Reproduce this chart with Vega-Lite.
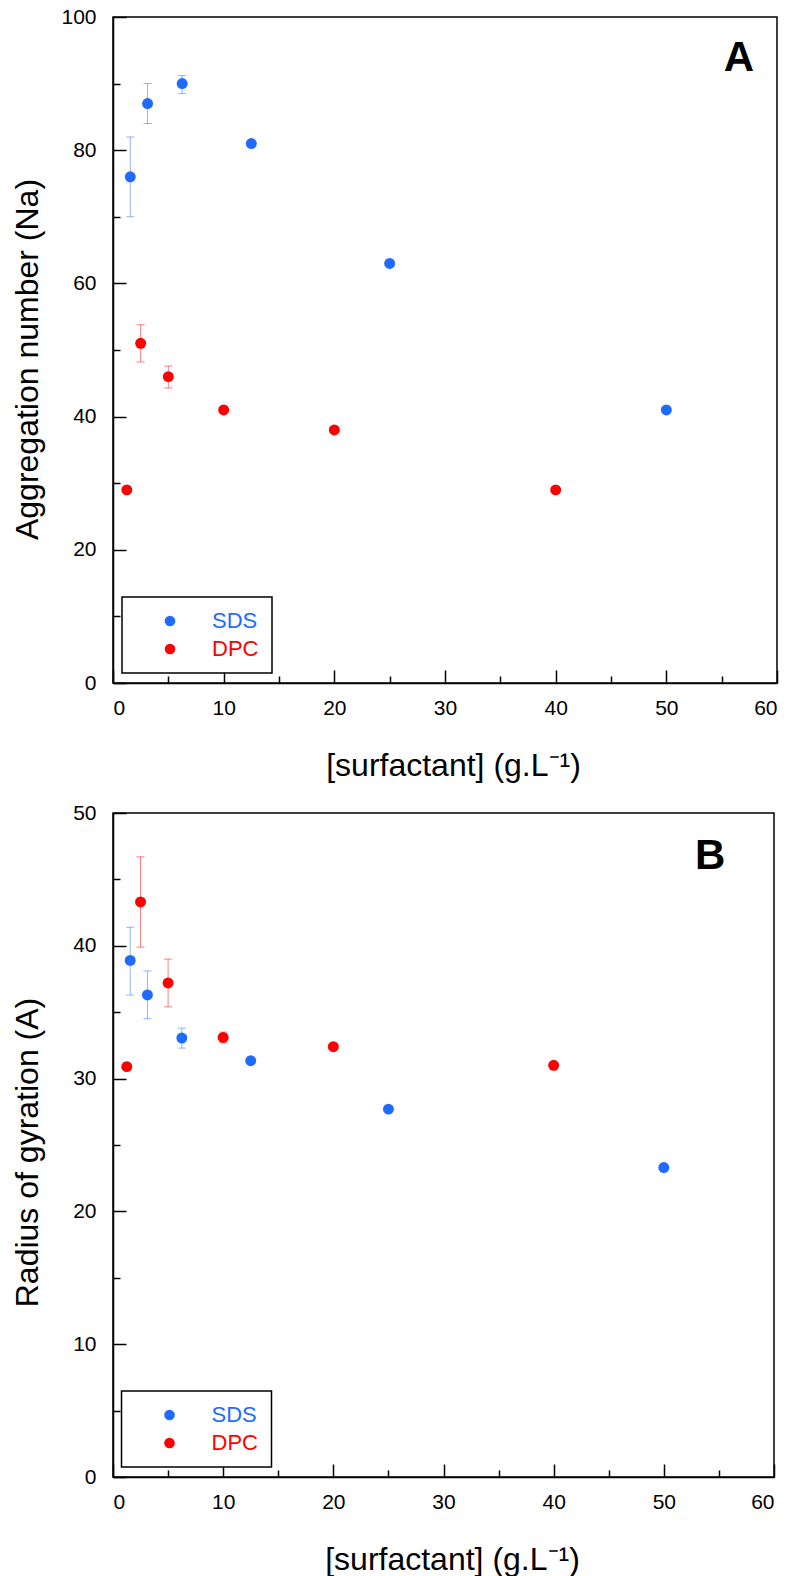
{
  "$schema": "https://vega.github.io/schema/vega-lite/v6.json",
  "padding": {"left": 10, "top": 5, "right": 5, "bottom": 1},
  "background": "white",
  "config": {
    "font": "Liberation Sans",
    "view": {"stroke": "black", "strokeWidth": 1.5},
    "axis": {
      "grid": false,
      "domainColor": "black",
      "domainWidth": 1.5,
      "tickColor": "black",
      "tickWidth": 1.5,
      "labelFont": "Liberation Sans",
      "labelFontSize": 21,
      "labelColor": "black",
      "titleFont": "Liberation Sans",
      "titleFontSize": 32,
      "titleFontWeight": "normal",
      "titleColor": "black"
    },
    "legend": {
      "orient": "none",
      "title": null,
      "strokeColor": "black",
      "strokeWidth": 1.5,
      "fillColor": "white",
      "padding": 13,
      "rowPadding": 6,
      "symbolType": "circle",
      "symbolSize": 113,
      "symbolOffset": 24,
      "symbolStrokeWidth": 0,
      "symbolOpacity": 1,
      "labelOffset": 31,
      "labelFont": "Liberation Sans",
      "labelFontSize": 22
    }
  },
  "datasets": {
    "panelA": [
      {"conc": 1.5625, "value": 76, "lo": 70, "hi": 82, "series": "SDS"},
      {"conc": 3.125, "value": 87, "lo": 84, "hi": 90, "series": "SDS"},
      {"conc": 6.25, "value": 90, "lo": 88.5, "hi": 91.2, "series": "SDS"},
      {"conc": 12.5, "value": 81, "lo": null, "hi": null, "series": "SDS"},
      {"conc": 25, "value": 63, "lo": null, "hi": null, "series": "SDS"},
      {"conc": 50, "value": 41, "lo": null, "hi": null, "series": "SDS"},
      {"conc": 1.25, "value": 29, "lo": null, "hi": null, "series": "DPC"},
      {"conc": 2.5, "value": 51, "lo": 48.2, "hi": 53.8, "series": "DPC"},
      {"conc": 5, "value": 46, "lo": 44.3, "hi": 47.6, "series": "DPC"},
      {"conc": 10, "value": 41, "lo": null, "hi": null, "series": "DPC"},
      {"conc": 20, "value": 38, "lo": null, "hi": null, "series": "DPC"},
      {"conc": 40, "value": 29, "lo": null, "hi": null, "series": "DPC"}
    ],
    "panelB": [
      {"conc": 1.5625, "value": 38.9, "lo": 36.3, "hi": 41.4, "series": "SDS"},
      {"conc": 3.125, "value": 36.3, "lo": 34.5, "hi": 38.1, "series": "SDS"},
      {"conc": 6.25, "value": 33.05, "lo": 32.3, "hi": 33.8, "series": "SDS"},
      {"conc": 12.5, "value": 31.35, "lo": null, "hi": null, "series": "SDS"},
      {"conc": 25, "value": 27.7, "lo": null, "hi": null, "series": "SDS"},
      {"conc": 50, "value": 23.3, "lo": null, "hi": null, "series": "SDS"},
      {"conc": 1.25, "value": 30.9, "lo": null, "hi": null, "series": "DPC"},
      {"conc": 2.5, "value": 43.3, "lo": 39.9, "hi": 46.7, "series": "DPC"},
      {"conc": 5, "value": 37.2, "lo": 35.4, "hi": 39.0, "series": "DPC"},
      {"conc": 10, "value": 33.1, "lo": 32.7, "hi": 33.5, "series": "DPC"},
      {"conc": 20, "value": 32.4, "lo": null, "hi": null, "series": "DPC"},
      {"conc": 40, "value": 31.0, "lo": null, "hi": null, "series": "DPC"}
    ],
    "labelA": [{"conc": 56.55, "value": 91.9, "label": "A"}],
    "labelB": [{"conc": 54.2, "value": 45.8, "label": "B"}]
  },
  "bounds": "flush",
  "spacing": 130,
  "resolve": {
    "scale": {"x": "independent", "y": "independent", "color": "independent"},
    "legend": {"color": "independent"}
  },
  "vconcat": [
    {
      "width": 664,
      "height": 666,
      "layer": [
        {
          "data": {"name": "panelA"},
          "transform": [{"filter": "datum.lo != null"}],
          "mark": {"type": "rule", "strokeWidth": 1, "opacity": 0.5},
          "encoding": {
            "x": {"field": "conc", "type": "quantitative", "scale": {"domain": [0, 60], "nice": false},
              "axis": {"orient": "bottom", "values": [0,5,10,15,20,25,30,35,40,45,50,55,60],
                "labelExpr": "datum.value % 10 === 0 ? datum.label : ''",
                "tickSize": {"condition": {"test": "datum.value % 10 === 0", "value": -13}, "value": -7},
                "labelPadding": 27,
                "title": "[surfactant] (g.L⁻¹)", "titleX": 340, "titleY": 92, "titleBaseline": "alphabetic"}},
            "y": {"field": "lo", "type": "quantitative", "scale": {"domain": [0, 100], "nice": false},
              "axis": {"orient": "left", "values": [0,10,20,30,40,50,60,70,80,90,100],
                "labelExpr": "datum.value % 20 === 0 ? datum.label : ''",
                "tickSize": {"condition": {"test": "datum.value % 20 === 0", "value": -13}, "value": -7},
                "labelPadding": 30,
                "title": "Aggregation number (Na)", "titleX": -69, "titleY": 342}},
            "y2": {"field": "hi"},
            "color": {"condition": {"test": "datum.series === 'SDS'", "value": "#1f6bff"}, "value": "#ff0000"}
          }
        },
        {
          "data": {"name": "panelA"},
          "transform": [{"filter": "datum.lo != null"}],
          "mark": {"type": "tick", "orient": "horizontal", "size": 8, "thickness": 1, "opacity": 0.5},
          "encoding": {
            "x": {"field": "conc", "type": "quantitative"},
            "y": {"field": "lo", "type": "quantitative"},
            "color": {"condition": {"test": "datum.series === 'SDS'", "value": "#1f6bff"}, "value": "#ff0000"}
          }
        },
        {
          "data": {"name": "panelA"},
          "transform": [{"filter": "datum.lo != null"}],
          "mark": {"type": "tick", "orient": "horizontal", "size": 8, "thickness": 1, "opacity": 0.5},
          "encoding": {
            "x": {"field": "conc", "type": "quantitative"},
            "y": {"field": "hi", "type": "quantitative"},
            "color": {"condition": {"test": "datum.series === 'SDS'", "value": "#1f6bff"}, "value": "#ff0000"}
          }
        },
        {
          "data": {"name": "panelA"},
          "mark": {"type": "circle", "size": 120, "opacity": 1},
          "encoding": {
            "x": {"field": "conc", "type": "quantitative"},
            "y": {"field": "value", "type": "quantitative"},
            "color": {"field": "series", "type": "nominal",
              "scale": {"domain": ["SDS", "DPC"], "range": ["#1f6bff", "#ff0000"]},
              "legend": {"legendX": 9, "legendY": 580,
                "encode": {"labels": {"update": {"fill": {"signal": "datum.value === 'SDS' ? '#1f6bff' : '#ff0000'"}}}}}}
          }
        },
        {
          "data": {"name": "labelA"},
          "mark": {"type": "text", "fontSize": 42, "fontWeight": "bold", "align": "center", "baseline": "alphabetic", "color": "black"},
          "encoding": {
            "x": {"field": "conc", "type": "quantitative"},
            "y": {"field": "value", "type": "quantitative"},
            "text": {"field": "label"}
          }
        }
      ]
    },
    {
      "width": 661,
      "height": 664,
      "layer": [
        {
          "data": {"name": "panelB"},
          "transform": [{"filter": "datum.lo != null"}],
          "mark": {"type": "rule", "strokeWidth": 1, "opacity": 0.5},
          "encoding": {
            "x": {"field": "conc", "type": "quantitative", "scale": {"domain": [0, 60], "nice": false},
              "axis": {"orient": "bottom", "values": [0,5,10,15,20,25,30,35,40,45,50,55,60],
                "labelExpr": "datum.value % 10 === 0 ? datum.label : ''",
                "tickSize": {"condition": {"test": "datum.value % 10 === 0", "value": -13}, "value": -7},
                "labelPadding": 27,
                "title": "[surfactant] (g.L⁻¹)", "titleX": 339, "titleY": 92, "titleBaseline": "alphabetic"}},
            "y": {"field": "lo", "type": "quantitative", "scale": {"domain": [0, 50], "nice": false},
              "axis": {"orient": "left", "values": [0,5,10,15,20,25,30,35,40,45,50],
                "labelExpr": "datum.value % 10 === 0 ? datum.label : ''",
                "tickSize": {"condition": {"test": "datum.value % 10 === 0", "value": -13}, "value": -7},
                "labelPadding": 30,
                "title": "Radius of gyration (A)", "titleX": -69, "titleY": 339}},
            "y2": {"field": "hi"},
            "color": {"condition": {"test": "datum.series === 'SDS'", "value": "#1f6bff"}, "value": "#ff0000"}
          }
        },
        {
          "data": {"name": "panelB"},
          "transform": [{"filter": "datum.lo != null"}],
          "mark": {"type": "tick", "orient": "horizontal", "size": 8, "thickness": 1, "opacity": 0.5},
          "encoding": {
            "x": {"field": "conc", "type": "quantitative"},
            "y": {"field": "lo", "type": "quantitative"},
            "color": {"condition": {"test": "datum.series === 'SDS'", "value": "#1f6bff"}, "value": "#ff0000"}
          }
        },
        {
          "data": {"name": "panelB"},
          "transform": [{"filter": "datum.lo != null"}],
          "mark": {"type": "tick", "orient": "horizontal", "size": 8, "thickness": 1, "opacity": 0.5},
          "encoding": {
            "x": {"field": "conc", "type": "quantitative"},
            "y": {"field": "hi", "type": "quantitative"},
            "color": {"condition": {"test": "datum.series === 'SDS'", "value": "#1f6bff"}, "value": "#ff0000"}
          }
        },
        {
          "data": {"name": "panelB"},
          "mark": {"type": "circle", "size": 120, "opacity": 1},
          "encoding": {
            "x": {"field": "conc", "type": "quantitative"},
            "y": {"field": "value", "type": "quantitative"},
            "color": {"field": "series", "type": "nominal",
              "scale": {"domain": ["SDS", "DPC"], "range": ["#1f6bff", "#ff0000"]},
              "legend": {"legendX": 8.5, "legendY": 578,
                "encode": {"labels": {"update": {"fill": {"signal": "datum.value === 'SDS' ? '#1f6bff' : '#ff0000'"}}}}}}
          }
        },
        {
          "data": {"name": "labelB"},
          "mark": {"type": "text", "fontSize": 42, "fontWeight": "bold", "align": "center", "baseline": "alphabetic", "color": "black"},
          "encoding": {
            "x": {"field": "conc", "type": "quantitative"},
            "y": {"field": "value", "type": "quantitative"},
            "text": {"field": "label"}
          }
        }
      ]
    }
  ]
}
